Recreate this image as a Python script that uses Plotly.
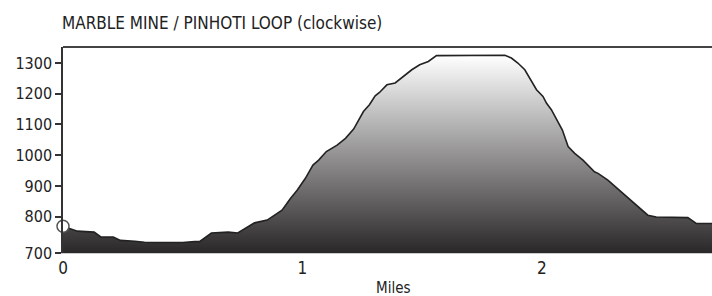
import plotly.graph_objects as go

miles = [0.0, 0.03, 0.06, 0.13, 0.158, 0.21, 0.24, 0.30, 0.34, 0.42, 0.50, 0.55, 0.57, 0.62, 0.69,
         0.73, 0.80, 0.853, 0.88, 0.915, 0.95, 0.978, 1.0125, 1.044, 1.068, 1.10, 1.145, 1.18,
         1.214, 1.235, 1.255, 1.28, 1.304, 1.322, 1.353, 1.3875, 1.422, 1.457, 1.49, 1.526, 1.56,
         1.846, 1.873, 1.90, 1.929, 1.957, 1.978, 2.005, 2.02, 2.04, 2.064, 2.086, 2.11, 2.1375,
         2.172, 2.22, 2.235, 2.276, 2.339, 2.395, 2.443, 2.478, 2.61, 2.645, 2.72]
elev = [769, 760, 753, 750, 734, 734, 723, 720, 717, 716, 716, 719, 719, 747, 750,
        747, 780, 789, 802, 821, 859, 886, 925, 968, 984, 1012, 1033, 1055,
        1085, 1115, 1142, 1164, 1193, 1204, 1229, 1235, 1256, 1278, 1294, 1305, 1324,
        1325, 1316, 1300, 1278, 1240, 1213, 1191, 1169, 1148, 1115, 1082, 1028, 1006,
        984, 946, 941, 919, 876, 838, 805, 799, 797, 778, 778]

y_tickvals = [682, 800, 900, 1000, 1100, 1200, 1300]
y_ticktext = ["700", "800", "900", "1000", "1100", "1200", "1300"]
x_tickvals = [0, 1, 2]
title_text = "MARBLE MINE / PINHOTI LOOP (clockwise)"
x_title = "Miles"

FONT = "Liberation Sans Narrow, Arial Narrow, DejaVu Sans Condensed, sans-serif"
W, H = 712, 296
L, R, T, B = 63, 0, 47, 43

fig = go.Figure()
fig.add_trace(go.Scatter(
    x=miles, y=elev, mode="lines",
    line=dict(color="#222222", width=1.6),
    fill="tozeroy",
    fillgradient=dict(type="vertical", start=682, stop=1325,
                      colorscale=[[0, "#2a2728"], [1, "#ffffff"]]),
    hoverinfo="skip", showlegend=False))
fig.add_trace(go.Scatter(
    x=[miles[0]], y=[elev[0]], mode="markers",
    marker=dict(size=12, color="white", line=dict(color="#555555", width=1.5)),
    cliponaxis=False, showlegend=False, hoverinfo="skip"))

fig.update_layout(
    width=W, height=H,
    margin=dict(l=L, r=R, t=T, b=B, autoexpand=False),
    paper_bgcolor="white", plot_bgcolor="white",
    font=dict(family=FONT, size=16, color="#222222"),
    title=dict(text=title_text, x=62 / W, xanchor="left", y=1 - 23.5 / H, yanchor="middle",
               font=dict(family=FONT, size=17, color="#222222")),
    xaxis=dict(range=[0, 2.711], tickvals=x_tickvals, showgrid=False, zeroline=False,
               showline=True, linecolor="#cccccc", linewidth=1, ticks="", automargin=False,
               tickfont=dict(family=FONT, size=17, color="#222222")),
    yaxis=dict(range=[682, 1352], tickvals=y_tickvals, ticktext=y_ticktext, automargin=False,
               showgrid=False, zeroline=False, showline=True, linecolor="#333333", linewidth=1.5,
               ticks="outside", ticklen=6, tickcolor="#333333", tickwidth=1.5,
               tickfont=dict(family=FONT, size=16, color="#222222")),
)
fig.add_shape(type="line", xref="paper", yref="paper", x0=0, x1=1, y0=1, y1=1,
              line=dict(color="#444444", width=2))
fig.add_annotation(text=x_title, xref="paper", yref="paper",
                   x=(393 - L) / (W - L - R), y=-(288 - (H - B)) / (H - T - B),
                   xanchor="center", yanchor="middle", showarrow=False,
                   font=dict(family=FONT, size=15, color="#222222"))

fig.write_html("out.html", config={"displayModeBar": False},
               post_script="document.body.style.margin='0';")
